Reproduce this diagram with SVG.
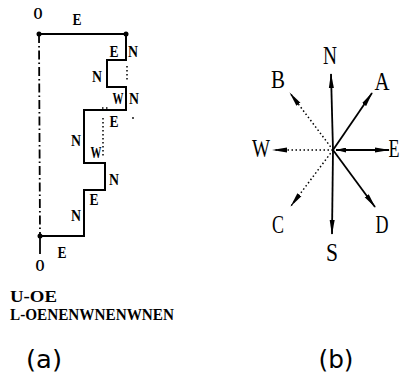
<svg xmlns="http://www.w3.org/2000/svg" width="404" height="379" viewBox="0 0 404 379">
<defs>
<style>
.ln{fill:none;stroke:#000;stroke-width:2;stroke-linecap:square}
.dot{fill:none;stroke:#000;stroke-width:1.5;stroke-dasharray:1.5 2.5}
.ax{fill:none;stroke:#000;stroke-width:1.8}
.dash{fill:none;stroke:#000;stroke-width:1.8;stroke-dasharray:9 3 1.5 3}
.la{font-family:"Liberation Serif",serif;font-weight:bold;font-size:16px;fill:#000;text-anchor:middle}
.lb{font-family:"Liberation Serif",serif;font-size:26px;fill:#000;text-anchor:middle}
.code{font-family:"Liberation Serif",serif;font-weight:bold;font-size:17px;fill:#000}
.cap{font-family:"DejaVu Sans",sans-serif;font-size:25px;fill:#000;text-anchor:middle}
</style>
<marker id="ah" markerUnits="userSpaceOnUse" markerWidth="15" markerHeight="6" refX="14" refY="3" orient="auto">
<path d="M0,0.5 L15,3 L0,5.5 z" fill="#000"/>
</marker>
<marker id="ahs" markerUnits="userSpaceOnUse" markerWidth="10" markerHeight="5" refX="0" refY="2.5" orient="auto">
<path d="M0,2.5 L10,0 L10,5 z" fill="#000"/>
</marker>
</defs>

<g id="chain-a">
<g id="connectors-a">
<line class="dash" x1="39" y1="34" x2="40" y2="236"/>
<line class="ax" x1="40" y1="236" x2="40" y2="254"/>
<line class="ln" x1="39" y1="34" x2="126" y2="34"/>
<path class="ln" d="M126,34 V60 H107 V87 H126 V110 H84 V163 H105 V190 H84 V236 H40"/>
<line class="dot" x1="127" y1="66" x2="127" y2="82"/>
<line class="dot" x1="102" y1="108" x2="110" y2="108"/>
<line class="dot" x1="103" y1="118" x2="103" y2="158"/>
<circle cx="133" cy="118" r="0.9" fill="#000"/>
</g>
<g id="node-O-top"><circle cx="39" cy="34" r="2.5" fill="#000"/><text class="la" x="38" y="19" textLength="9" lengthAdjust="spacingAndGlyphs">O</text></g>
<g id="node-top-right"><circle cx="126" cy="34" r="2.5" fill="#000"/></g>
<g id="node-O-bottom"><circle cx="40" cy="236" r="2.5" fill="#000"/><text class="la" x="40" y="271" textLength="9" lengthAdjust="spacingAndGlyphs">O</text></g>
<g id="labels-a">
<text class="la" x="77" y="25" textLength="9" lengthAdjust="spacingAndGlyphs">E</text>
<text class="la" x="114" y="57" textLength="9" lengthAdjust="spacingAndGlyphs">E</text>
<text class="la" x="133" y="57" textLength="10" lengthAdjust="spacingAndGlyphs">N</text>
<text class="la" x="97" y="82" textLength="10" lengthAdjust="spacingAndGlyphs">N</text>
<text class="la" x="118" y="104" textLength="11" lengthAdjust="spacingAndGlyphs">W</text>
<text class="la" x="134" y="104" textLength="10" lengthAdjust="spacingAndGlyphs">N</text>
<text class="la" x="114" y="127" textLength="9" lengthAdjust="spacingAndGlyphs">E</text>
<text class="la" x="76" y="146" textLength="10" lengthAdjust="spacingAndGlyphs">N</text>
<text class="la" x="96" y="158" textLength="11" lengthAdjust="spacingAndGlyphs">W</text>
<text class="la" x="114" y="185" textLength="10" lengthAdjust="spacingAndGlyphs">N</text>
<text class="la" x="94" y="205" textLength="9" lengthAdjust="spacingAndGlyphs">E</text>
<text class="la" x="76" y="221" textLength="10" lengthAdjust="spacingAndGlyphs">N</text>
<text class="la" x="62" y="258" textLength="9" lengthAdjust="spacingAndGlyphs">E</text>
</g>
<text class="code" x="10" y="302" textLength="47" lengthAdjust="spacingAndGlyphs">U-OE</text>
<text class="code" x="10" y="320" textLength="164" lengthAdjust="spacingAndGlyphs">L-OENENWNENWNEN</text>
<text class="cap" x="44" y="368" textLength="36" lengthAdjust="spacingAndGlyphs">(a)</text>
</g>

<g id="compass-b">
<g id="connectors-b">
<line class="ax" x1="333" y1="150" x2="331" y2="74" marker-end="url(#ah)"/>
<line class="ax" x1="333" y1="150" x2="332" y2="234" marker-end="url(#ah)"/>
<line class="ax" x1="336" y1="150" x2="389" y2="150" marker-start="url(#ahs)" marker-end="url(#ah)"/>
<line class="dot" x1="333" y1="150" x2="273" y2="150" marker-end="url(#ah)"/>
<line class="ax" x1="333" y1="150" x2="372" y2="93" marker-end="url(#ah)"/>
<line class="dot" x1="333" y1="150" x2="290" y2="93" marker-end="url(#ah)"/>
<line class="dot" x1="333" y1="150" x2="291" y2="206" marker-end="url(#ah)"/>
<line class="ax" x1="333" y1="150" x2="375" y2="207" marker-end="url(#ah)"/>
</g>
<g id="node-N"><text class="lb" x="330" y="64" textLength="14" lengthAdjust="spacingAndGlyphs">N</text></g>
<g id="node-A"><text class="lb" x="382" y="90" textLength="15" lengthAdjust="spacingAndGlyphs">A</text></g>
<g id="node-B"><text class="lb" x="278" y="88" textLength="14" lengthAdjust="spacingAndGlyphs">B</text></g>
<g id="node-W"><text class="lb" x="261" y="157" textLength="18" lengthAdjust="spacingAndGlyphs">W</text></g>
<g id="node-E"><text class="lb" x="394" y="157" textLength="11" lengthAdjust="spacingAndGlyphs">E</text></g>
<g id="node-C"><text class="lb" x="278" y="233" textLength="12" lengthAdjust="spacingAndGlyphs">C</text></g>
<g id="node-S"><text class="lb" x="332" y="261" textLength="12" lengthAdjust="spacingAndGlyphs">S</text></g>
<g id="node-D"><text class="lb" x="382" y="233" textLength="13" lengthAdjust="spacingAndGlyphs">D</text></g>
<text class="cap" x="336" y="368" textLength="35" lengthAdjust="spacingAndGlyphs">(b)</text>
</g>
</svg>
